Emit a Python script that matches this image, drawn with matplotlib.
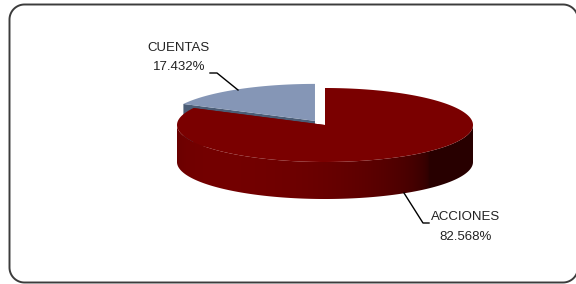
import numpy as np
import matplotlib
matplotlib.use("Agg")
import matplotlib.pyplot as plt
from matplotlib.patches import Polygon

labels = ["ACCIONES", "CUENTAS"]
values = [82.568, 17.432]
top_colors = ["#7a0000", "#8596b6"]
side_colors = ["#760000", "#4b5d76"]
explode = [0.0, 0.13]

# pie geometry in pixel space (y grows downward)
CX, CY = 325, 125
A, B = 148, 37
DEPTH = 37

plt.rcParams['font.family'] = ['Liberation Sans', 'DejaVu Sans']

fig = plt.figure(figsize=(5.76, 2.84), dpi=100)
ax = fig.add_axes([0, 0, 1, 1])
ax.set_xlim(0, 576)
ax.set_ylim(284, 0)
ax.axis("off")

# rounded frame, open on the right (it runs past the image edge in the original)
L, T, R, Bt, RAD = 9.5, 4.5, 578, 282.5, 15


def corner(cx, cy, a0, a1):
    a = np.radians(np.linspace(a0, a1, 20))
    return list(cx + RAD * np.cos(a)), list(cy - RAD * np.sin(a))


fx, fy = [], []
for seg in [corner(R - RAD, Bt - RAD, 0, -90), corner(L + RAD, Bt - RAD, -90, -180),
            corner(L + RAD, T + RAD, 180, 90), corner(R - RAD, T + RAD, 90, 0)]:
    fx += seg[0]
    fy += seg[1]
ax.plot(fx, fy, color="#3c3c3c", lw=1.4, solid_capstyle="butt", zorder=1)


def pt(theta, cx, cy, dz=0.0):
    t = np.radians(theta)
    return cx + A * np.cos(t), cy - B * np.sin(t) + dz


def shade(hexcol, f):
    rgb = np.array(matplotlib.colors.to_rgb(hexcol))
    return np.clip(rgb * f, 0, 1)


# slice angles: start at 12 o'clock, clockwise
total = sum(values)
slices = []
start = 90.0
for v in values:
    sweep = 360.0 * v / total
    slices.append((start - sweep, start))
    start -= sweep

# draw the exploded small slice first (it's behind)
for k, i in enumerate([1, 0]):
    t1, t2 = slices[i]
    mid = np.radians((t1 + t2) / 2)
    cx = CX + explode[i] * A * np.cos(mid)
    cy = CY - explode[i] * B * np.sin(mid)
    z = 2 + k

    # radial side faces
    for ang in (t1, t2):
        p = pt(ang, cx, cy)
        quad = [(cx, cy), p, (p[0], p[1] + DEPTH), (cx, cy + DEPTH)]
        ax.add_patch(Polygon(quad, closed=True, fc=side_colors[i], ec="none", zorder=z))

    # outer wall: only the front half, shaded left-to-right
    angs = np.linspace(t1, t2, 600)
    front = angs[(angs % 360) >= 180]
    if len(front) > 1:
        front = np.sort(front % 360)
        top = [pt(a, cx, cy) for a in front]
        bot = [pt(a, cx, cy, DEPTH) for a in front[::-1]]
        wall = Polygon(top + bot, closed=True, fc="none", ec="none", zorder=z + 0.1)
        ax.add_patch(wall)
        xs = np.linspace(cx - A, cx + A, 400)
        ang = 360 - np.degrees(np.arccos(np.clip((xs - cx) / A, -1, 1)))
        inten = 0.34 + 0.64 * np.clip(np.cos(np.radians(ang - 225)), 0, 1) ** 0.5
        img = np.array([shade(side_colors[i], f) for f in inten])[None, :, :]
        im = ax.imshow(img, extent=(cx - A, cx + A, cy + B + DEPTH + 2, cy - 2),
                       aspect="auto", interpolation="bilinear", zorder=z + 0.1)
        im.set_clip_path(wall)

    # top face
    arc = [pt(a, cx, cy) for a in np.linspace(t1, t2, 300)]
    ax.add_patch(Polygon([(cx, cy)] + arc, closed=True, fc=top_colors[i], ec="none",
                         zorder=z + 0.2))

ax.set_xlim(0, 576)
ax.set_ylim(284, 0)

# labels with leader lines
txt = dict(fontsize=9.5, color="#222222", ha="center", va="center")
ax.text(179, 48, labels[1], **txt)
ax.text(179, 67, f"{values[1]:.3f}%", **txt)
ax.plot([210, 217, 238], [73, 73, 90], color="black", lw=1.0, zorder=6)

ax.text(466, 217, labels[0], **txt)
ax.text(466, 237, f"{values[0]:.3f}%", **txt)
ax.plot([404, 423, 429], [193, 223, 223], color="black", lw=1.0, zorder=6)

fig.savefig("out.png", dpi=100)
